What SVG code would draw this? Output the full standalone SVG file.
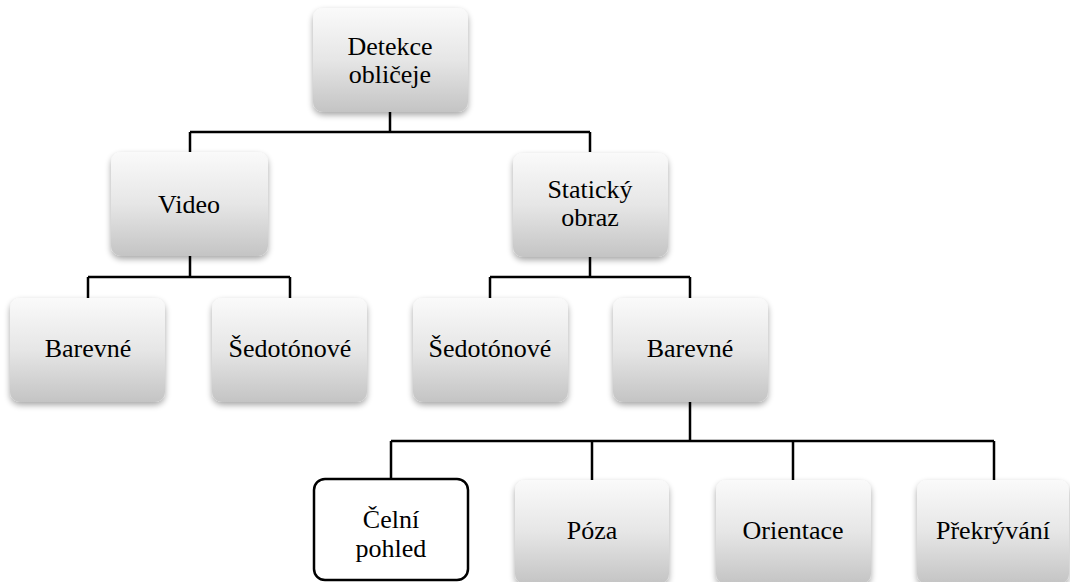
<svg xmlns="http://www.w3.org/2000/svg" width="1070" height="582" viewBox="0 0 1070 582">
<defs>
<linearGradient id="g" x1="0" y1="0" x2="0" y2="1">
<stop offset="0" stop-color="#fafafa"/>
<stop offset="0.5" stop-color="#e6e6e6"/>
<stop offset="1" stop-color="#c4c4c4"/>
</linearGradient>
<filter id="sh" x="-10%" y="-10%" width="120%" height="130%">
<feGaussianBlur in="SourceAlpha" stdDeviation="3"/>
<feOffset dx="0" dy="3" result="b"/>
<feComponentTransfer><feFuncA type="linear" slope="0.35"/></feComponentTransfer>
<feMerge><feMergeNode/><feMergeNode in="SourceGraphic"/></feMerge>
</filter>
</defs>
<style>
.box{fill:url(#g);filter:url(#sh);}
.sel{fill:#fff;stroke:#000;stroke-width:2.5;}
.t{font-size:26px;fill:#000;text-anchor:middle;}
.c{fill:none;stroke:#000;stroke-width:2.5;}
</style>
<rect width="1070" height="582" fill="#fff"/>
<g id="connectors">
<path class="c" d="M390,112 V132 M190,132 H590 M190,132 V152 M590,132 V152"/>
<path class="c" d="M190,256 V277 M88,277 H290 M88,277 V298 M290,277 V298"/>
<path class="c" d="M590,256 V277 M490,277 H690 M490,277 V298 M690,277 V298"/>
<path class="c" d="M690,402 V441 M391,441 H994 M391,441 V478 M592,441 V480 M793,441 V480 M994,441 V480"/>
</g>
<g font-family="Liberation Serif, DejaVu Serif, serif">
<g id="root"><rect class="box" x="313" y="8" width="155" height="104" rx="10"/><text class="t" x="390" y="55">Detekce</text><text class="t" x="390" y="83">obličeje</text></g>
<g id="video"><rect class="box" x="111" y="152" width="157" height="104" rx="10"/><text class="t" x="189" y="213">Video</text></g>
<g id="staticky"><rect class="box" x="513" y="153" width="155" height="104" rx="10"/><text class="t" x="590" y="198">Statický</text><text class="t" x="590" y="226">obraz</text></g>
<g id="barevne1"><rect class="box" x="10" y="298" width="155" height="104" rx="10"/><text class="t" x="88" y="357">Barevné</text></g>
<g id="sedotonove1"><rect class="box" x="212" y="298" width="155" height="104" rx="10"/><text class="t" x="290" y="357">Šedotónové</text></g>
<g id="sedotonove2"><rect class="box" x="413" y="298" width="155" height="104" rx="10"/><text class="t" x="490" y="357">Šedotónové</text></g>
<g id="barevne2"><rect class="box" x="613" y="298" width="155" height="104" rx="10"/><text class="t" x="690" y="357">Barevné</text></g>
<g id="celni"><rect class="sel" x="314" y="479" width="154" height="101" rx="11"/><text class="t" x="391" y="528">Čelní</text><text class="t" x="391" y="557">pohled</text></g>
<g id="poza"><rect class="box" x="515" y="480" width="154" height="104" rx="10"/><text class="t" x="592" y="539">Póza</text></g>
<g id="orientace"><rect class="box" x="716" y="480" width="155" height="104" rx="10"/><text class="t" x="793" y="539">Orientace</text></g>
<g id="prekryvani"><rect class="box" x="917" y="480" width="152" height="104" rx="10"/><text class="t" x="993" y="539">Překrývání</text></g>
</g>
</svg>
